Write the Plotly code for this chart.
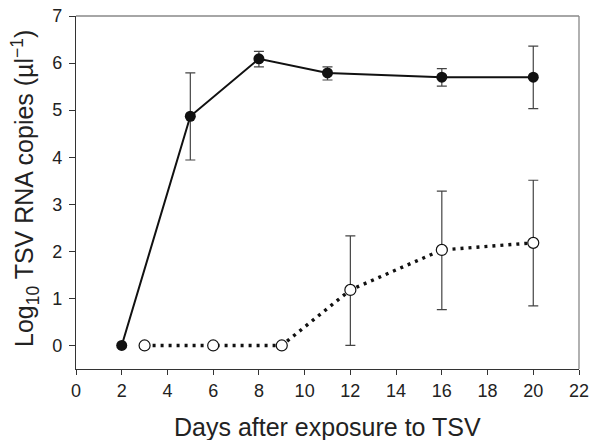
import plotly.graph_objects as go

# Infected (filled) series
days_a = [2, 5, 8, 11, 16, 20]
vals_a = [0.0, 4.87, 6.09, 5.79, 5.70, 5.70]
err_up_a = [0.0, 0.92, 0.16, 0.13, 0.18, 0.66]
err_dn_a = [0.0, 0.93, 0.17, 0.15, 0.19, 0.67]

# Cohabitation (open) series
days_b = [3, 6, 9, 12, 16, 20]
vals_b = [0.0, 0.0, 0.0, 1.18, 2.03, 2.18]
err_up_b = [0.0, 0.0, 0.0, 1.15, 1.25, 1.33]
err_dn_b = [0.0, 0.0, 0.0, 1.18, 1.27, 1.34]

x_ticks = list(range(0, 23, 2))
y_ticks = list(range(0, 8))

x_title = "Days after exposure to TSV"
y_title = "Log<sub>10</sub> TSV RNA copies (µl<sup>−1</sup>)"

font = "Liberation Sans, Arial, sans-serif"

fig = go.Figure()
fig.add_trace(go.Scatter(
    x=days_b, y=vals_b, mode="lines+markers",
    line=dict(color="#111111", width=3.4, dash="3px,5px"),
    marker=dict(size=11, color="white", line=dict(color="#111111", width=1.2)),
    error_y=dict(type="data", symmetric=False, array=err_up_b, arrayminus=err_dn_b,
                 color="#444444", thickness=1.2, width=5),
    showlegend=False))
fig.add_trace(go.Scatter(
    x=days_a, y=vals_a, mode="lines+markers",
    line=dict(color="#111111", width=2),
    marker=dict(size=11, color="#111111"),
    error_y=dict(type="data", symmetric=False, array=err_up_a, arrayminus=err_dn_a,
                 color="#444444", thickness=1.2, width=5),
    showlegend=False))

fig.update_layout(
    width=592, height=440,
    margin=dict(l=76, r=13, t=16, b=71),
    paper_bgcolor="white", plot_bgcolor="white",
    font=dict(family=font, size=18, color="#222222"),
    xaxis=dict(range=[0, 22], tickvals=x_ticks, ticks="outside", ticklen=5,
               tickcolor="#333333", showline=True, linecolor="#333333", linewidth=1.3,
               showgrid=False, zeroline=False, automargin=False),
    yaxis=dict(range=[-0.5, 7], tickvals=y_ticks, ticks="outside", ticklen=6,
               tickcolor="#333333", showline=True, linecolor="#333333", linewidth=1.3,
               showgrid=False, zeroline=False, automargin=False, ticklabelstandoff=3),
    annotations=[
        dict(text=x_title, xref="paper", yref="paper", x=0.5, y=-0.1629,
             xanchor="center", yanchor="middle", showarrow=False,
             font=dict(size=25, color="#222222")),
        dict(text=y_title, xref="paper", yref="paper", x=-0.1014, y=0.5127,
             xanchor="center", yanchor="middle", showarrow=False, textangle=-90,
             font=dict(size=25, color="#222222")),
    ],
    shapes=[
        dict(type="line", xref="paper", yref="paper", x0=0, x1=1, y0=1, y1=1,
             line=dict(color="#888888", width=1.3)),
        dict(type="line", xref="paper", yref="paper", x0=1, x1=1, y0=0, y1=1,
             line=dict(color="#888888", width=1.3)),
    ],
)

fig.write_html("out.html")
